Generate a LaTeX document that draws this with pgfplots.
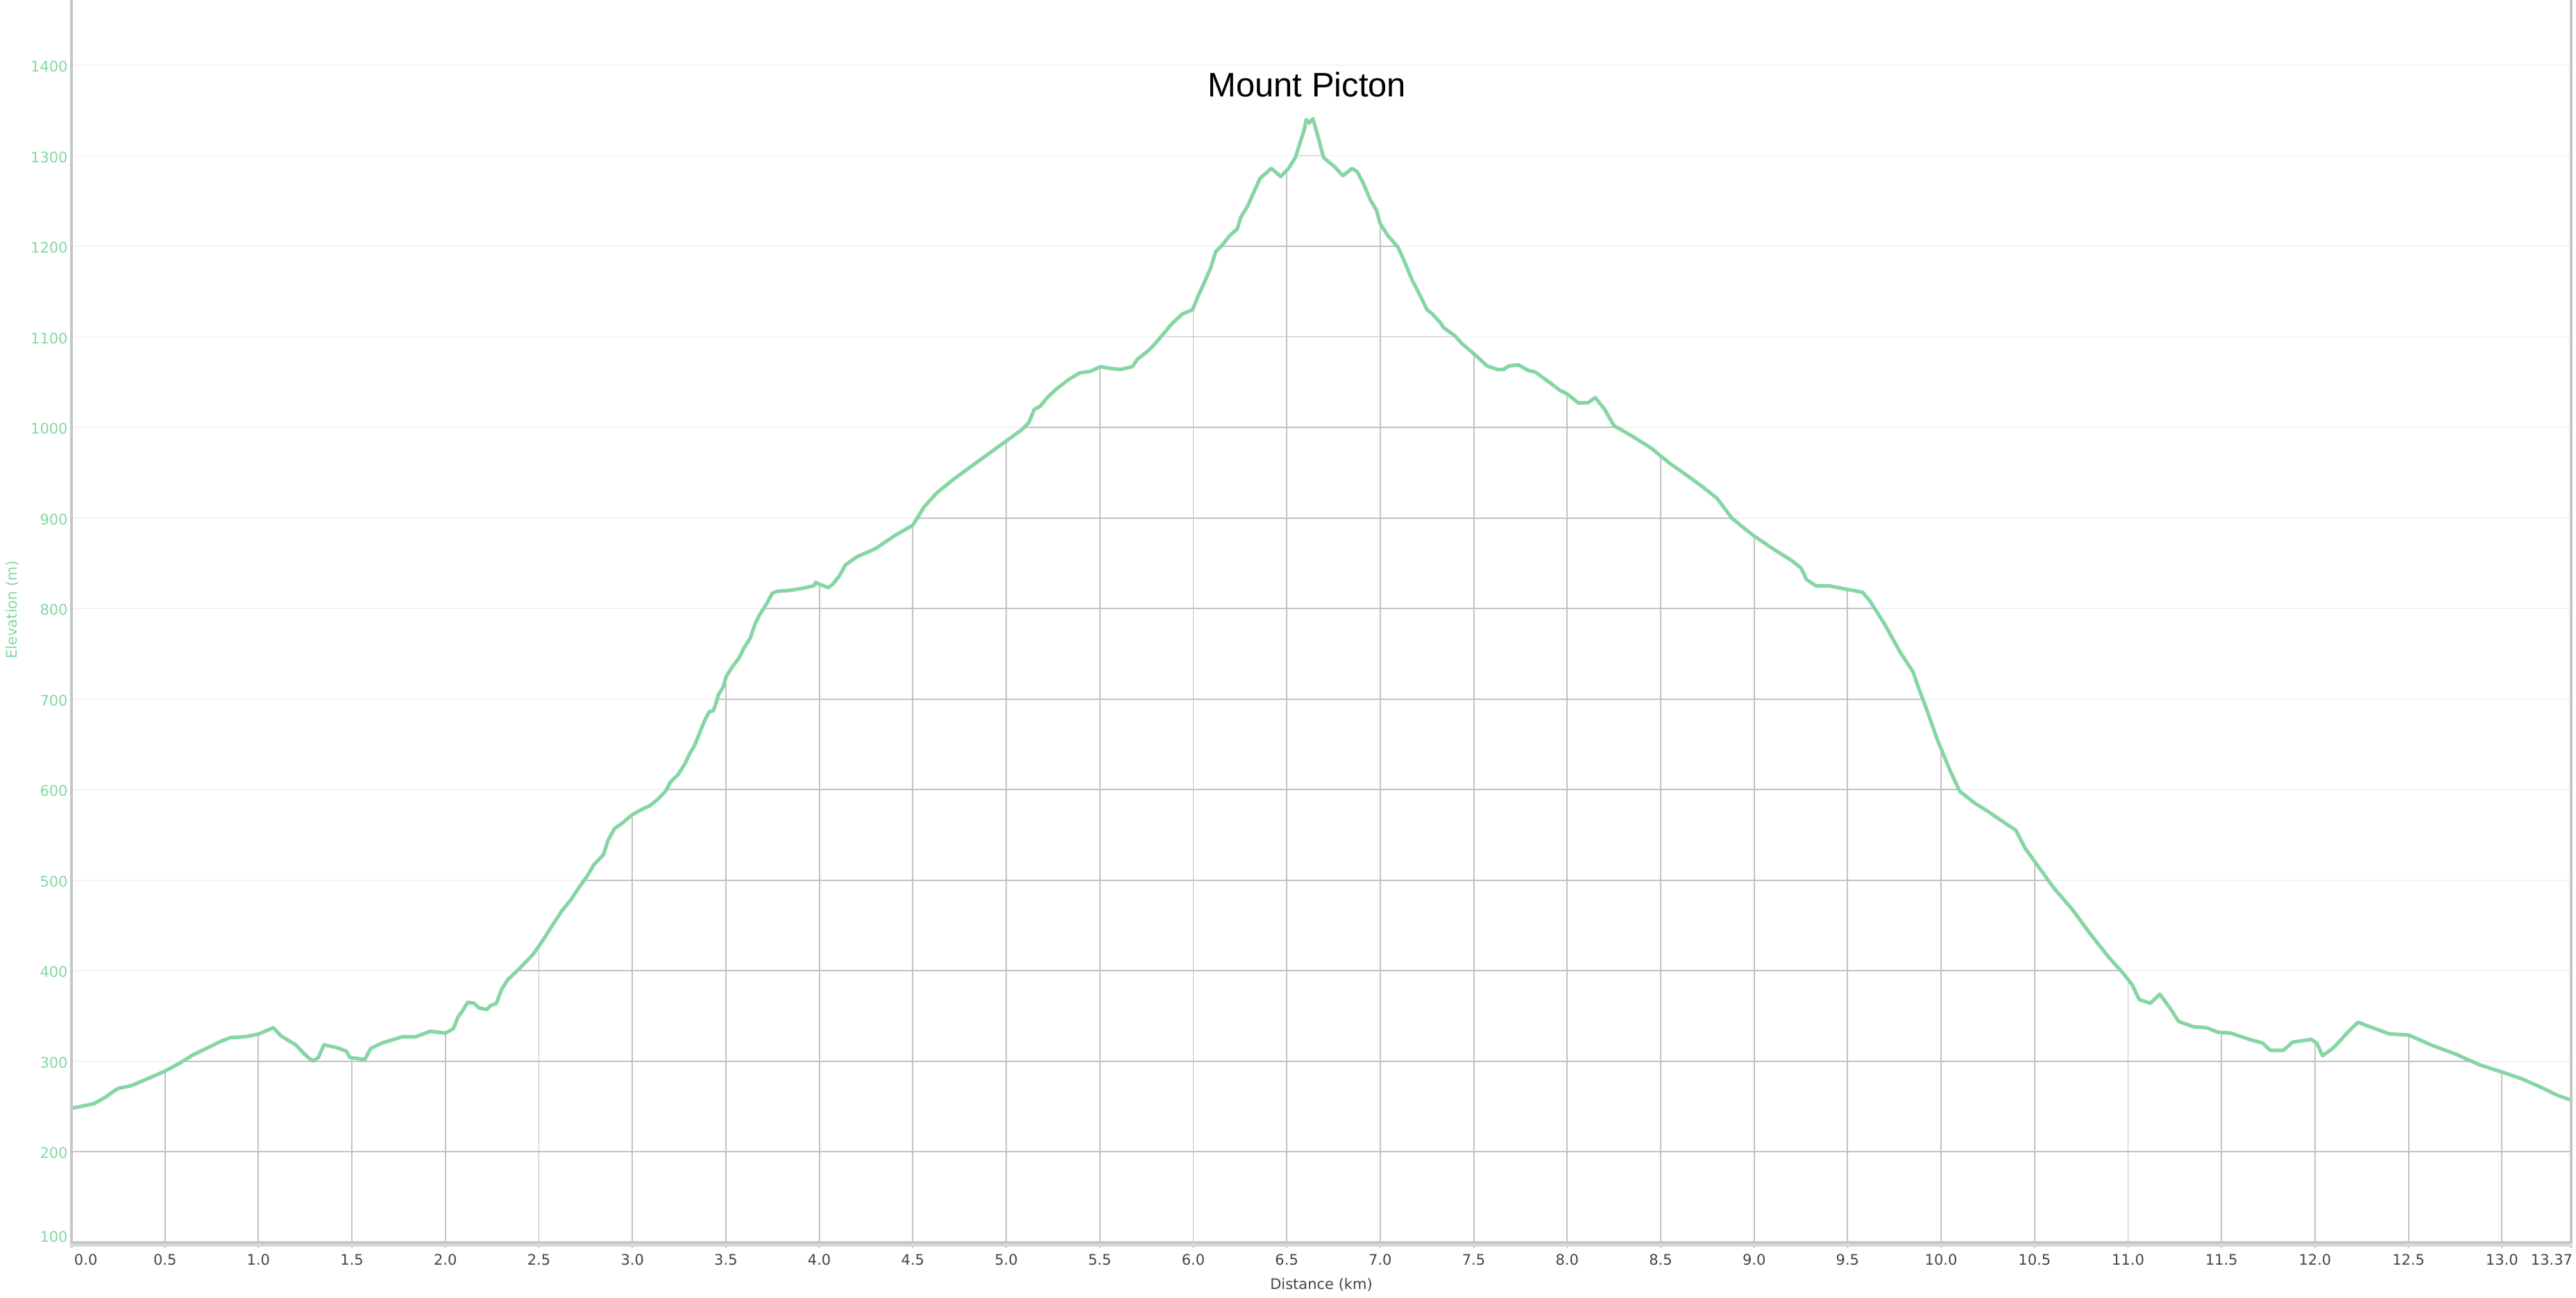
\documentclass[border=0pt]{standalone}
\usepackage{fontspec}
\setmainfont{DejaVu Sans}
\newfontfamily\titlefont{Liberation Sans}
\usepackage{pgfplots}
\pgfplotsset{compat=1.18}
\usepackage{pgfplotstable}
\definecolor{curve}{HTML}{86D6A4}
\definecolor{gridc}{HTML}{C2C2C2}
\definecolor{axc}{HTML}{C6C6C6}
\definecolor{axl}{HTML}{D8D8D8}
\definecolor{labc}{HTML}{444444}

\pgfplotstableread{
x y
0.00 248
0.05 250
0.12 253
0.18 260
0.22 266
0.25 270
0.32 273
0.40 280
0.50 289
0.58 298
0.65 307
0.72 314
0.80 322
0.85 326
0.93 327
1.00 330
1.08 337
1.12 328
1.20 318
1.25 307
1.29 300
1.32 304
1.35 318
1.42 315
1.47 311
1.49 304
1.57 302
1.60 314
1.66 320
1.77 327
1.84 327
1.92 333
2.00 331
2.026 334
2.043 336
2.068 349
2.093 356
2.119 365
2.153 364
2.179 359
2.222 357
2.239 361
2.273 364
2.30 379
2.333 390
2.375 398
2.418 407
2.469 418
2.52 433
2.572 450
2.623 466
2.674 479
2.708 490
2.76 505
2.794 517
2.845 528
2.87 544
2.905 557
2.947 563
2.998 572
3.05 578
3.092 582
3.135 589
3.177 598
3.203 608
3.246 617
3.28 628
3.305 639
3.331 648
3.357 661
3.382 674
3.411 686
3.433 687
3.45 697
3.459 704
3.485 713
3.502 725
3.536 736
3.57 745
3.596 756
3.63 767
3.655 782
3.68 793
3.715 804
3.749 817
3.775 819
3.843 820
3.903 822
3.971 825
3.98 829
3.997 827
4.048 823
4.073 827
4.107 836
4.14 848
4.20 857
4.30 866
4.40 880
4.50 892
4.56 912
4.63 928
4.72 943
4.80 955
4.90 970
5.00 985
5.08 997
5.12 1005
5.15 1020
5.18 1023
5.22 1033
5.26 1041
5.335 1053
5.39 1060
5.45 1062
5.505 1067
5.56 1065
5.61 1064
5.675 1067
5.70 1075
5.75 1083
5.79 1091
5.835 1102
5.884 1114
5.94 1125
5.996 1130
6.026 1145
6.055 1158
6.093 1176
6.12 1194
6.158 1202
6.196 1212
6.235 1219
6.254 1232
6.29 1244
6.32 1258
6.357 1275
6.418 1286
6.468 1277
6.51 1286
6.546 1298
6.594 1329
6.604 1340
6.62 1336
6.64 1341
6.67 1319
6.697 1298
6.755 1288
6.80 1278
6.85 1286
6.878 1282
6.906 1271
6.95 1250
6.98 1240
7.00 1225
7.04 1212
7.095 1199
7.13 1183
7.17 1163
7.22 1143
7.25 1130
7.28 1125
7.32 1116
7.34 1110
7.40 1101
7.435 1093
7.48 1085
7.53 1076
7.57 1068
7.625 1064
7.66 1064
7.69 1068
7.74 1069
7.79 1063
7.83 1061
7.91 1049
7.96 1041
8.00 1037
8.06 1027
8.11 1027
8.15 1033
8.20 1020
8.25 1002
8.35 990
8.45 977
8.55 960
8.62 950
8.72 935
8.80 922
8.88 900
8.95 888
9.00 880
9.10 866
9.20 853
9.25 845
9.28 832
9.33 825
9.40 825
9.50 821
9.58 818
9.62 808
9.70 782
9.78 752
9.85 730
9.88 712
9.92 690
9.98 655
10.05 620
10.10 598
10.18 585
10.25 576
10.32 566
10.40 555
10.45 535
10.52 515
10.60 492
10.70 468
10.80 440
10.90 414
10.97 398
11.02 385
11.06 368
11.12 364
11.17 374
11.22 360
11.27 344
11.35 338
11.42 337
11.48 332
11.55 331
11.65 324
11.72 320
11.76 312
11.83 312
11.88 321
11.98 324
12.01 320
12.04 306
12.10 315
12.18 333
12.23 343
12.32 336
12.40 330
12.50 329
12.62 318
12.75 308
12.88 296
13.00 288
13.10 281
13.20 272
13.30 262
13.37 257
}\profile

\begin{document}
\begin{tikzpicture}
\begin{axis}[
  at={(0,0)}, anchor=south west,
  scale only axis, width=1801pt, height=896pt,
  xmin=0, xmax=13.37, ymin=99, ymax=1472,
  clip=false,
  axis line style={draw=none},
  tick style={draw=none},
  major tick length=0pt,
  xtick={0,0.5,1,1.5,2,2.5,3,3.5,4,4.5,5,5.5,6,6.5,7,7.5,8,8.5,9,9.5,10,10.5,11,11.5,12,12.5,13,13.37},
  xticklabels={\hspace*{4pt}\makebox[0pt][l]{0.0},0.5,1.0,1.5,2.0,2.5,3.0,3.5,4.0,4.5,5.0,5.5,6.0,6.5,7.0,7.5,8.0,8.5,9.0,9.5,10.0,10.5,11.0,11.5,12.0,12.5,13.0,\hspace*{2pt}\makebox[0pt][r]{13.37}},
  ytick={200,300,400,500,600,700,800,900,1000,1100,1200,1300,1400},
  extra y ticks={100},
  extra y tick style={yticklabel style={yshift=5pt}},
  /pgf/number format/assume math mode=true,
  /pgf/number format/1000 sep={},
  grid=major,
  major grid style={gridc, line width=0.95pt},
  xticklabel style={font=\fontsize{10.5}{12}\selectfont, text=labc, inner sep=0pt, anchor=north, yshift=-8pt},
  yticklabel style={font=\fontsize{10.5}{12}\selectfont, text=curve, inner sep=0pt, anchor=east, xshift=-2.5pt, yshift=-1pt},
  xlabel={Distance (km)},
  xlabel style={at={(axis description cs:0.5,0)}, anchor=center, yshift=-30.2pt, inner sep=0pt, font=\fontsize{10.5}{12}\selectfont, text=labc},
  ylabel={Elevation (m)},
  ylabel style={at={(axis description cs:-0.02374,0.5095)}, anchor=center, inner sep=0pt, font=\fontsize{10.5}{12}\selectfont, text=curve},
]
% hide the dark grid above the profile
\addplot[draw=none, fill=white, forget plot] table {\profile}
  -- (axis cs:13.37,1472) -- (axis cs:0,1472) -- cycle;
% faint horizontal grid (stays dark where it lies on the dark grid below the profile)
\pgfplotsinvokeforeach{200,300,400,500,600,700,800,900,1000,1100,1200,1300,1400}{
  \draw[gridc, opacity=0.2, line width=0.95pt] (axis cs:0,#1) -- (axis cs:13.37,#1);
}
% profile
\addplot[curve, line width=2.6pt, line join=round, line cap=round] table {\profile};
% axis lines
\draw[axc, line width=1.8pt] (rel axis cs:0,0) -- (rel axis cs:0,1);
\draw[axc, line width=1.8pt] (rel axis cs:1,0) -- (rel axis cs:1,1);
\draw[axc, line width=1.65pt] ([yshift=0.5pt]rel axis cs:0,0) -- ([yshift=0.5pt]rel axis cs:1,0);
\draw[axl, line width=1.85pt] ([yshift=-1.5pt]rel axis cs:0,0) -- ([yshift=-1.5pt]rel axis cs:1,0);
\pgfplotsinvokeforeach{0,0.5,1,1.5,2,2.5,3,3.5,4,4.5,5,5.5,6,6.5,7,7.5,8,8.5,9,9.5,10,10.5,11,11.5,12,12.5,13,13.37}{
  \draw[axl, line width=1.6pt] (axis cs:#1,99) -- ([yshift=-3.6pt]axis cs:#1,99);
}
\node[font=\titlefont\fontsize{24.5}{28}\selectfont, inner sep=0pt, text=black] at (axis cs:6.608,1378.4) {Mount Picton};
\end{axis}
\pgfresetboundingbox
\path (-51.5pt,-39pt) rectangle (1804.5pt,896pt);
\end{tikzpicture}
\end{document}
